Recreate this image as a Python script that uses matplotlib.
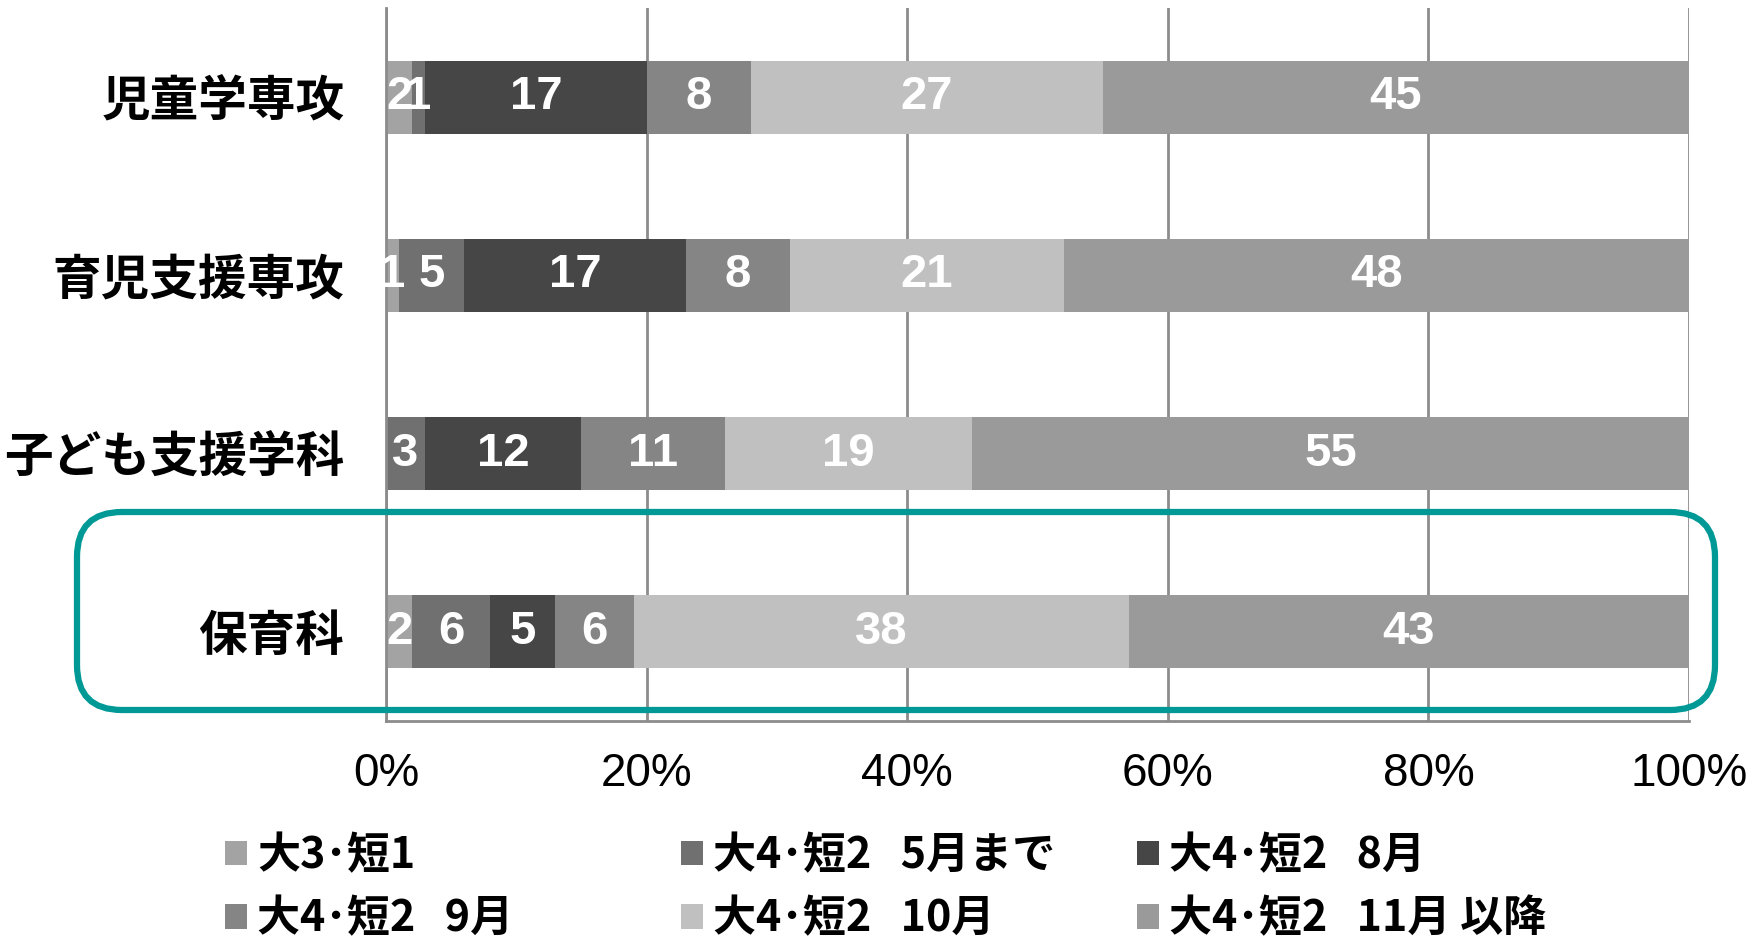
import numpy as np
import matplotlib.pyplot as plt
from matplotlib.patches import FancyBboxPatch, Patch
from matplotlib.ticker import PercentFormatter

# data (percent of each group)
categories = ['児童学専攻', '育児支援専攻', '子ども支援学科', '保育科']
series_names = ['大3･短1', '大4･短2   5月まで', '大4･短2   8月',
                '大4･短2   9月', '大4･短2   10月', '大4･短2   11月 以降']
v_early = [2, 1, 0, 2]
v_may = [1, 5, 3, 6]
v_aug = [17, 17, 12, 5]
v_sep = [8, 8, 11, 6]
v_oct = [27, 21, 19, 38]
v_nov = [45, 48, 55, 43]
colors = ['#a3a3a3', '#707070', '#464646', '#858585', '#c0c0c0', '#9a9a9a']

series = [v_early, v_may, v_aug, v_sep, v_oct, v_nov]

jp = ['Noto Sans CJK JP', 'DejaVu Sans']
num = ['Liberation Sans', 'Noto Sans CJK JP']

fig = plt.figure(figsize=(17.65, 9.44), dpi=100)
ax = fig.add_axes([386/1765, 1 - 721/944, (1689 - 386)/1765, (721 - 8)/944])

y = np.arange(len(categories))
left = np.zeros(len(categories))
handles = []
for name, vals, c in zip(series_names, series, colors):
    vals = np.array(vals, dtype=float)
    bars = ax.barh(y, vals, left=left, height=0.41, color=c, zorder=2)
    ax.bar_label(bars, labels=[str(int(v)) if v > 0 else '' for v in vals],
                 label_type='center', color='white', fontsize=34,
                 fontweight='bold', family=num, zorder=3)
    left += vals
    handles.append(Patch(facecolor=c, label=name))

ax.set_xlim(0, 100)
ax.set_ylim(len(categories) - 0.5, -0.5)
ax.set_xticks(np.arange(0, 101, 20))
ax.xaxis.set_major_formatter(PercentFormatter(decimals=0))
ax.set_yticks(y)
ax.set_yticklabels(categories, family=jp, fontsize=35, fontweight='bold')
for lab in ax.get_xticklabels():
    lab.set_family(num)
    lab.set_fontsize(33)
ax.tick_params(axis='x', length=0, pad=22)
ax.tick_params(axis='y', length=0, pad=30)
ax.grid(axis='x', color='#8c8c8c', linewidth=2, zorder=1)
for s in ['top', 'right']:
    ax.spines[s].set_visible(False)
for s in ['left', 'bottom']:
    ax.spines[s].set_color('#8c8c8c')
    ax.spines[s].set_linewidth(2)

# highlight box around 保育科
box = FancyBboxPatch((0.77, 2.34), 17.15 - 0.77, 4.32 - 2.34,
                     boxstyle='round,pad=0,rounding_size=0.45',
                     transform=fig.dpi_scale_trans, fill=False,
                     edgecolor='#009995', linewidth=4.5, clip_on=False, zorder=5)
fig.add_artist(box)

# legend: three columns, each with two entries (row-major order)
col_x = [225/1765, 681/1765, 1137/1765]
for i, x in enumerate(col_x):
    leg = fig.legend(handles=[handles[i], handles[i + 3]], loc='center left',
                     bbox_to_anchor=(x, 1 - 887/944), frameon=False,
                     borderpad=0, borderaxespad=0, handlelength=0.5,
                     handleheight=0.5, handletextpad=0.25, labelspacing=0.45,
                     prop={'family': jp, 'size': 31, 'weight': 'bold'})

fig.savefig('out.png', dpi=100)
